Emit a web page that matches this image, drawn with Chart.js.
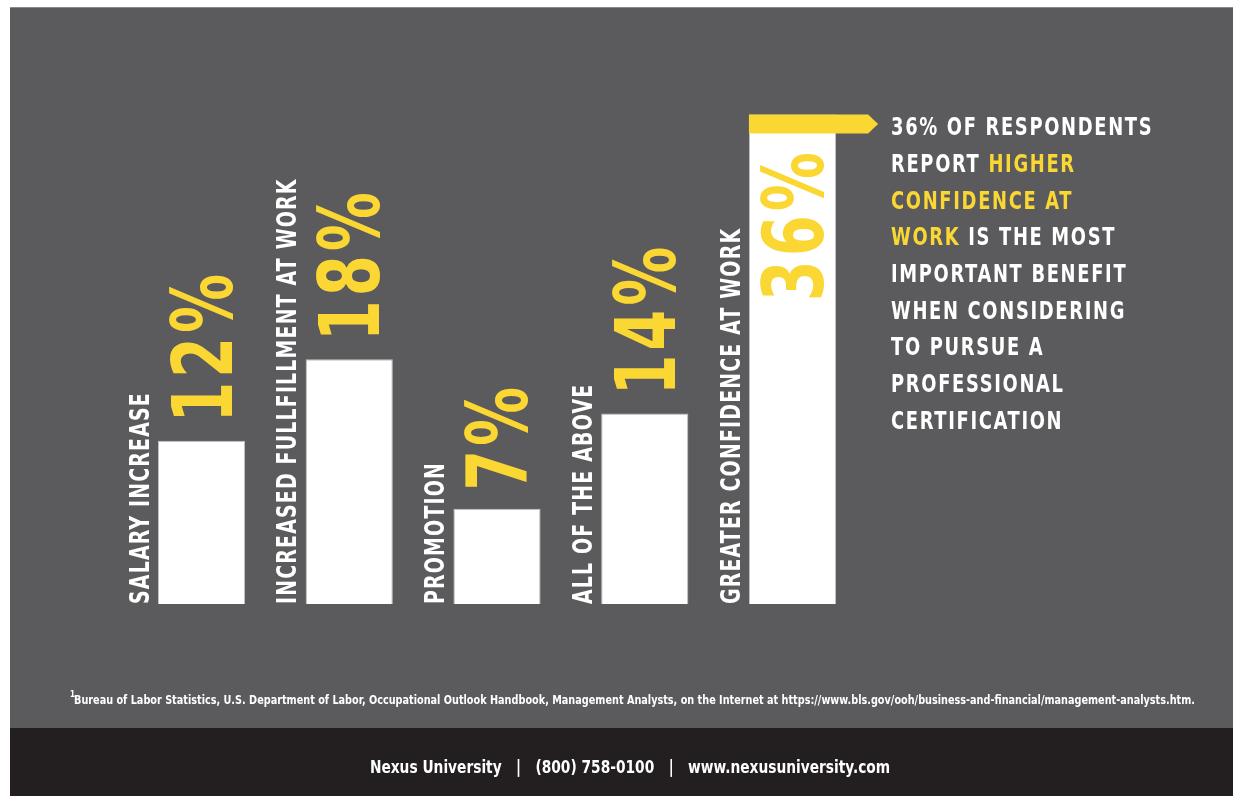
<!DOCTYPE html>
<html>
<head>
  <title>Professional certification benefits</title>
  <script src="https://cdn.jsdelivr.net/npm/chart.js"></script>
  <style>
    html, body { margin: 0; padding: 0; background: #fff; overflow: hidden; }
    canvas { display: block; }
  </style>
</head>
<body>
  <canvas id="myChart" width="1233" height="796"></canvas>

  <script>
    // data read from the infographic
    const categories = ['SALARY INCREASE', 'INCREASED FULLFILLMENT AT WORK', 'PROMOTION', 'ALL OF THE ABOVE', 'GREATER CONFIDENCE AT WORK'];
    const values = [12, 18, 7, 14, 36];
    const valueLabels = ['12%', '18%', '7%', '14%', '36%'];

    // callout lines: [text, colour] pieces
    const calloutLines = [
      [['36% OF RESPONDENTS', 'w']],
      [['REPORT ', 'w'], ['HIGHER', 'y']],
      [['CONFIDENCE AT', 'y']],
      [['WORK', 'y'], [' IS THE MOST', 'w']],
      [['IMPORTANT BENEFIT', 'w']],
      [['WHEN CONSIDERING', 'w']],
      [['TO PURSUE A', 'w']],
      [['PROFESSIONAL', 'w']],
      [['CERTIFICATION', 'w']]
    ];
    const footnote = 'Bureau of Labor Statistics, U.S. Department of Labor, Occupational Outlook Handbook, Management Analysts, on the Internet at https://www.bls.gov/ooh/business-and-financial/management-analysts.htm.';
    const footer = ['Nexus University', '(800) 758-0100', 'www.nexusuniversity.com'];

    const GRAY = '#5b5b5d';
    const DARK = '#231f20';
    const YELLOW = '#fbd734';
    const NARROW = '"Liberation Sans Narrow", "DejaVu Sans Condensed", sans-serif';
    const SQUEEZE = 0.78; // fake a condensed face

    // rotated text running bottom-to-top, centred on cx
    function upText(ctx, text, cx, y, size, color, align, spacing) {
      ctx.save();
      ctx.font = 'bold ' + size + 'px ' + NARROW;
      ctx.letterSpacing = spacing + 'px';
      ctx.fillStyle = color;
      ctx.translate(cx + size * 0.36, y);
      ctx.rotate(-Math.PI / 2);
      ctx.scale(SQUEEZE, 1);
      ctx.textAlign = align;
      ctx.textBaseline = 'alphabetic';
      ctx.fillText(text, 0, 0);
      ctx.restore();
    }

    const background = {
      id: 'background',
      beforeDraw(chart) {
        const ctx = chart.ctx;
        ctx.save();
        ctx.fillStyle = '#fff';
        ctx.fillRect(0, 0, chart.width, chart.height);
        ctx.fillStyle = GRAY;
        ctx.fillRect(10, 7, chart.width - 10, 721);
        ctx.fillStyle = '#8a8a8c';
        ctx.fillRect(10, 7, chart.width - 10, 1);
        ctx.fillStyle = DARK;
        ctx.fillRect(10, 728, chart.width - 10, chart.height - 728);
        ctx.restore();
      }
    };

    const decorations = {
      id: 'decorations',
      afterDatasetsDraw(chart) {
        const ctx = chart.ctx;
        const bars = chart.getDatasetMeta(0).data;
        const maxIdx = values.indexOf(Math.max(...values));

        bars.forEach((bar, i) => {
          const left = bar.x - bar.width / 2;
          upText(ctx, categories[i], left - 19, bar.base, 27, '#fff', 'left', 1.5);
          if (i === maxIdx) {
            // yellow flag on top of the tallest bar
            const right = bar.x + bar.width / 2;
            ctx.save();
            ctx.fillStyle = YELLOW;
            ctx.beginPath();
            ctx.moveTo(left, bar.y);
            ctx.lineTo(right + 32, bar.y);
            ctx.lineTo(right + 42, bar.y + 9.5);
            ctx.lineTo(right + 32, bar.y + 19);
            ctx.lineTo(left, bar.y + 19);
            ctx.closePath();
            ctx.fill();
            ctx.restore();
            upText(ctx, valueLabels[i], bar.x, bar.y + 34, 84, YELLOW, 'right', 5);
          } else {
            upText(ctx, valueLabels[i], bar.x, bar.y - 18, 84, YELLOW, 'left', 5);
          }
        });

        // callout text
        ctx.save();
        ctx.font = 'bold 24px ' + NARROW;
        ctx.letterSpacing = '2px';
        ctx.textBaseline = 'middle';
        calloutLines.forEach((line, r) => {
          let x = 0;
          const y = 129 + r * 36.7;
          ctx.save();
          ctx.translate(891, y);
          ctx.scale(0.83, 1);
          line.forEach(([t, c]) => {
            ctx.fillStyle = c === 'y' ? YELLOW : '#fff';
            ctx.fillText(t, x, 0);
            x += ctx.measureText(t).width;
          });
          ctx.restore();
        });
        ctx.restore();

        // footnote, squeezed to the width it takes in the original
        ctx.save();
        ctx.fillStyle = '#fff';
        ctx.font = 'bold 8px ' + NARROW;
        ctx.fillText('1', 70, 697);
        ctx.font = 'bold 13px ' + NARROW;
        ctx.textBaseline = 'middle';
        const fw = ctx.measureText(footnote).width;
        ctx.translate(74, 701);
        ctx.scale(1121 / fw, 1);
        ctx.fillText(footnote, 0, 0);
        ctx.restore();

        // footer
        ctx.save();
        ctx.fillStyle = '#fff';
        ctx.font = 'bold 17px ' + NARROW;
        ctx.textBaseline = 'middle';
        ctx.textAlign = 'center';
        ctx.translate(630, 769);
        ctx.scale(0.9, 1);
        ctx.fillText(footer.join('   |   '), 0, 0);
        ctx.restore();
      }
    };

    const ctx = document.getElementById('myChart').getContext('2d');
    new Chart(ctx, {
      type: 'bar',
      data: {
        labels: categories,
        datasets: [{
          data: values,
          backgroundColor: '#ffffff',
          borderColor: '#c4c4c4',
          borderWidth: 1,
          categoryPercentage: 1,
          barPercentage: 0.59
        }]
      },
      options: {
        responsive: false,
        animation: false,
        layout: { padding: { left: 127.6, right: 366.6, top: 60, bottom: 192 } },
        plugins: { legend: { display: false }, tooltip: { enabled: false } },
        scales: {
          x: { display: false },
          y: { display: false, min: 0, max: 40 }
        }
      },
      plugins: [background, decorations]
    });
  </script>
</body>
</html>
